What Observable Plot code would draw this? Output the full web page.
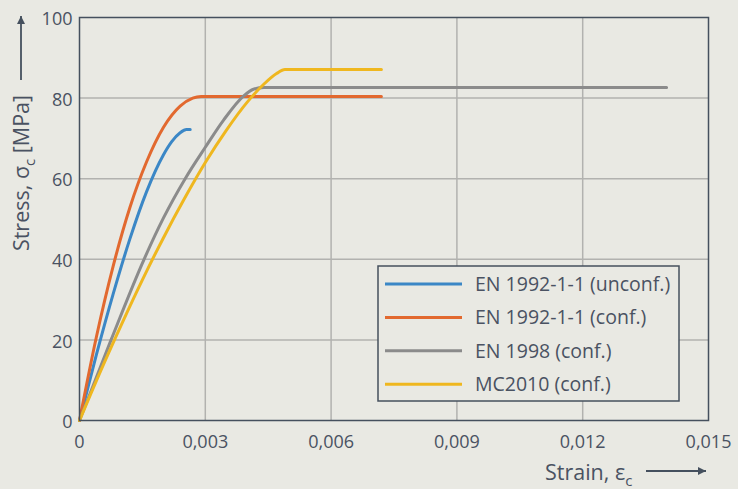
<!DOCTYPE html>
<html>
<head>
<meta charset="utf-8">
<script src="https://cdn.jsdelivr.net/npm/d3@7"></script>
<script src="https://cdn.jsdelivr.net/npm/@observablehq/plot@0.6"></script>
<style>
  html, body { margin: 0; padding: 0; background: #e9e9e3; }
  #chart { width: 738px; height: 489px; }
</style>
</head>
<body>
<div id="chart"></div>
<script>
// ---- data ----
const seriesNames = ["EN 1992-1-1 (unconf.)", "EN 1992-1-1 (conf.)", "EN 1998 (conf.)", "MC2010 (conf.)"];
const seriesColors = ["#3b87c6", "#e2692f", "#8b8b8b", "#efb71f"];

const strainUnconf = [0, 0.0004, 0.0008, 0.0012, 0.0016, 0.0020, 0.0022, 0.0024, 0.00255, 0.00264];
const stressUnconf = [0, 16.2, 31.3, 45.0, 56.8, 65.9, 69.2, 71.4, 72.2, 72.2];

const strainEC2conf = [0, 0.0004, 0.0008, 0.0012, 0.0016, 0.0020, 0.0024, 0.0027, 0.0029, 0.0072];
const stressEC2conf = [0, 20.6, 38.2, 52.8, 64.2, 72.7, 78.0, 80.0, 80.4, 80.4];

const strainEC8conf = [0, 0.00076, 0.00154, 0.0020, 0.00252, 0.0030, 0.00344, 0.00391, 0.00415, 0.0044, 0.0140];
const stressEC8conf = [0, 20.2, 40, 50.2, 60.0, 67.8, 74.6, 80.5, 82.2, 82.6, 82.6];

const strainMC2010 = [0, 0.0005, 0.0010, 0.0015, 0.0020, 0.0025, 0.0030, 0.0035, 0.0040, 0.0044, 0.0047, 0.0049, 0.0072];
const stressMC2010 = [0, 12.2, 23.8, 34.9, 45.3, 55.0, 64.0, 72.0, 79.0, 83.5, 86.1, 87.1, 87.1];

const xTicks = [0, 0.003, 0.006, 0.009, 0.012, 0.015];
const yTicks = [0, 20, 40, 60, 80, 100];

// ---- build table ----
const strains = [strainUnconf, strainEC2conf, strainEC8conf, strainMC2010];
const stresses = [stressUnconf, stressEC2conf, stressEC8conf, stressMC2010];
const rows = [];
seriesNames.forEach((name, i) => {
  strains[i].forEach((s, j) => rows.push({series: name, strain: s, stress: stresses[i][j]}));
});

const textColor = "#4a5262";
const frameColor = "#45505e";
const bg = "#e9e9e3";
const font = "'Open Sans', sans-serif";
const fmtX = d => d === 0 ? "0" : d.toFixed(3).replace(".", ",");

const svg = Plot.plot({
  width: 738,
  height: 489,
  marginLeft: 79,
  marginRight: 30,
  marginTop: 17,
  marginBottom: 69,
  style: {background: bg, fontFamily: font, fontSize: "18px", color: textColor, overflow: "visible"},
  x: {domain: [0, 0.015], label: null},
  y: {domain: [0, 100], label: null},
  color: {domain: seriesNames, range: seriesColors},
  marks: [
    Plot.gridX(xTicks.slice(1, -1), {stroke: "#b2b2af", strokeOpacity: 1, strokeWidth: 1.5}),
    Plot.gridY(yTicks.slice(1, -1), {stroke: "#b2b2af", strokeOpacity: 1, strokeWidth: 1.5}),
    Plot.axisX(xTicks, {tickSize: 0, tickPadding: 15, tickFormat: fmtX, label: null, fill: textColor, fontSize: 18}),
    Plot.axisY(yTicks, {tickSize: 0, tickPadding: 7, dy: 2, label: null, fill: textColor, fontSize: 18}),
    Plot.line(rows, {x: "strain", y: "stress", z: "series", stroke: "series", curve: "monotone-x", strokeWidth: 3}),
    Plot.frame({stroke: frameColor, strokeWidth: 1.5})
  ]
});

const s = d3.select(svg);
const defs = s.append("defs");
defs.append("marker").attr("id", "ah").attr("viewBox", "0 0 10 10").attr("refX", 10).attr("refY", 5)
  .attr("markerWidth", 16).attr("markerHeight", 8).attr("markerUnits", "userSpaceOnUse").attr("orient", "auto")
  .append("path").attr("d", "M0,0 L10,5 L0,10 z").attr("fill", frameColor);

// y-axis title with arrow
const yt = s.append("text")
  .attr("transform", "translate(29,173) rotate(-90)")
  .attr("text-anchor", "middle")
  .attr("fill", textColor)
  .attr("font-family", font)
  .attr("font-size", 21.5);
yt.append("tspan").text("Stress, σ");
yt.append("tspan").attr("dy", 6).attr("font-size", 15).text("c");
yt.append("tspan").attr("dy", -6).text(" [MPa]");
s.append("line").attr("x1", 21).attr("x2", 21).attr("y1", 80).attr("y2", 16)
  .attr("stroke", frameColor).attr("stroke-width", 1.8).attr("marker-end", "url(#ah)");

// x-axis title with arrow
const xt = s.append("text")
  .attr("x", 545).attr("y", 480)
  .attr("text-anchor", "start")
  .attr("fill", textColor)
  .attr("font-family", font)
  .attr("font-size", 21.5);
xt.append("tspan").text("Strain, ε");
xt.append("tspan").attr("dy", 6).attr("font-size", 15).text("c");
s.append("line").attr("x1", 646).attr("x2", 706).attr("y1", 471).attr("y2", 471)
  .attr("stroke", frameColor).attr("stroke-width", 1.8).attr("marker-end", "url(#ah)");

// legend
const lg = s.append("g");
lg.append("rect").attr("x", 378).attr("y", 266).attr("width", 301).attr("height", 135)
  .attr("fill", bg).attr("stroke", frameColor).attr("stroke-width", 1.5);
seriesNames.forEach((name, i) => {
  const y = 284 + i * 33.4;
  lg.append("line").attr("x1", 385).attr("x2", 462).attr("y1", y).attr("y2", y)
    .attr("stroke", seriesColors[i]).attr("stroke-width", 3);
  lg.append("text").attr("x", 475).attr("y", y).attr("dy", "0.35em")
    .attr("text-anchor", "start")
    .attr("fill", textColor).attr("font-family", font).attr("font-size", 19.5)
    .text(name);
});

document.getElementById("chart").appendChild(svg);
</script>
</body>
</html>
